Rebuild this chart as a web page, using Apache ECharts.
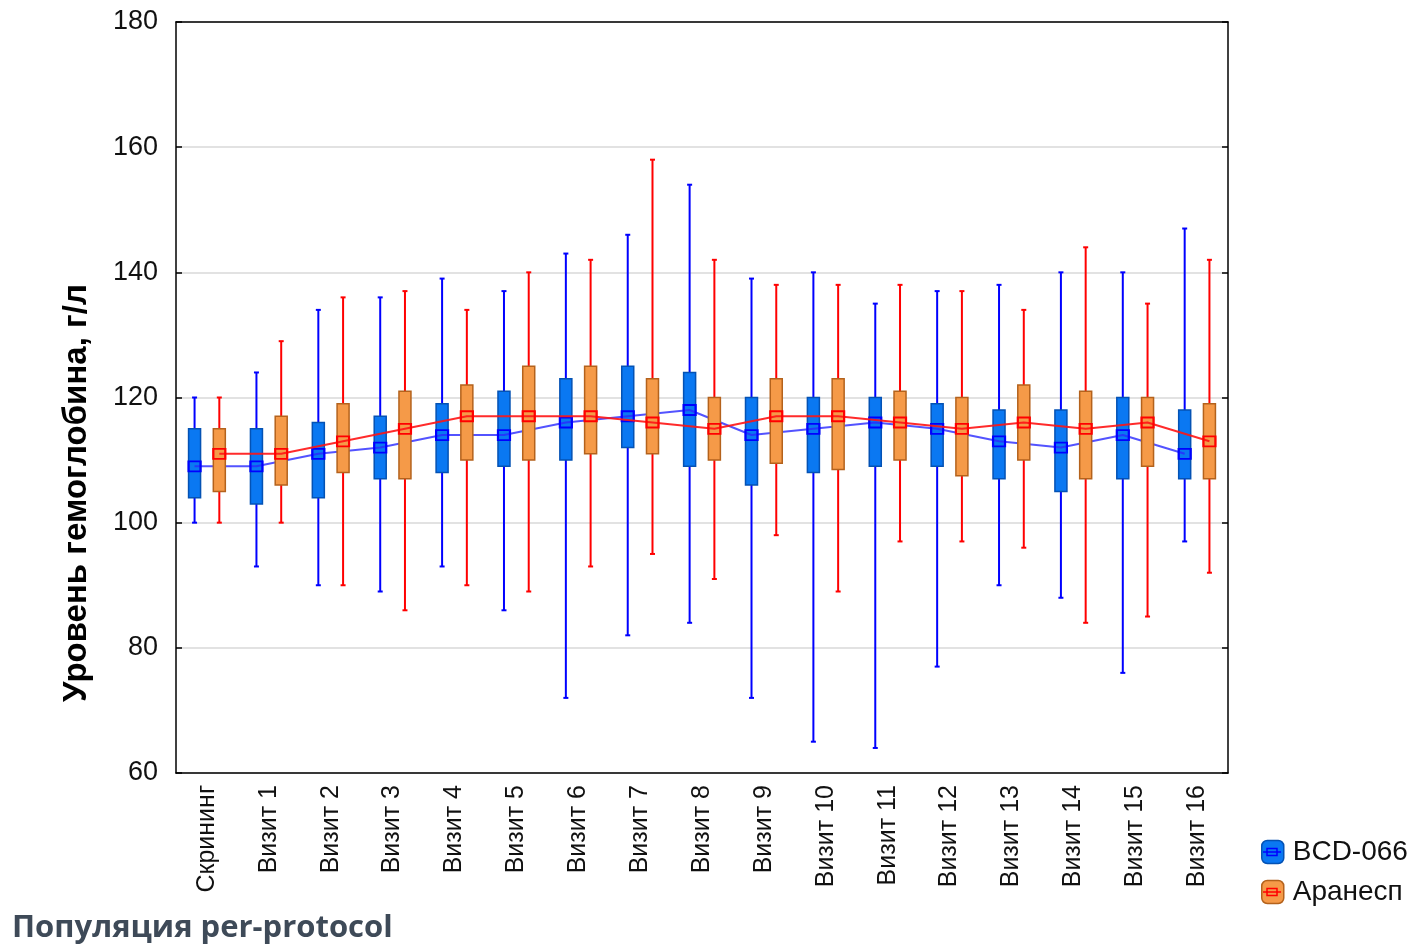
<!DOCTYPE html>
<html>
<head>
<meta charset="utf-8">
<script src="https://cdn.jsdelivr.net/npm/echarts@6/dist/echarts.min.js"></script>
<style>
  html, body { margin: 0; padding: 0; background: #fff; }
  #chart { width: 1415px; height: 944px; }
</style>
</head>
<body>
<div id="chart"></div>
<script>
// Visits along the x axis
const categories = ['Скрининг', 'Визит 1', 'Визит 2', 'Визит 3', 'Визит 4', 'Визит 5', 'Визит 6',
  'Визит 7', 'Визит 8', 'Визит 9', 'Визит 10', 'Визит 11', 'Визит 12', 'Визит 13',
  'Визит 14', 'Визит 15', 'Визит 16'];

// Hemoglobin, g/L — BCD-066 group: min, Q1, median, Q3, max per visit
const bcdMin    = [100, 93, 90, 89, 93, 86, 72, 82, 84, 72, 65, 64, 77, 90, 88, 76, 97];
const bcdQ1     = [104, 103, 104, 107, 108, 109, 110, 112, 109, 106, 108, 109, 109, 107, 105, 107, 107];
const bcdMedian = [109, 109, 111, 112, 114, 114, 116, 117, 118, 114, 115, 116, 115, 113, 112, 114, 111];
const bcdQ3     = [115, 115, 116, 117, 119, 121, 123, 125, 124, 120, 120, 120, 119, 118, 118, 120, 118];
const bcdMax    = [120, 124, 134, 136, 139, 137, 143, 146, 154, 139, 140, 135, 137, 138, 140, 140, 147];

// Hemoglobin, g/L — Аранесп group
const araMin    = [100, 100, 90, 86, 90, 89, 93, 95, 91, 98, 89, 97, 97, 96, 84, 85, 92];
const araQ1     = [105, 106, 108, 107, 110, 110, 111, 111, 110, 109.5, 108.5, 110, 107.5, 110, 107, 109, 107];
const araMedian = [111, 111, 113, 115, 117, 117, 117, 116, 115, 117, 117, 116, 115, 116, 115, 116, 113];
const araQ3     = [115, 117, 119, 121, 122, 125, 125, 123, 120, 123, 123, 121, 120, 122, 121, 120, 119];
const araMax    = [120, 129, 136, 137, 134, 140, 142, 158, 142, 138, 138, 138, 137, 134, 144, 135, 142];

// Y axis ticks
const yTicks = [60, 80, 100, 120, 140, 160, 180];

// Side-by-side placement of the two groups inside each visit slot
const OFFSET = 0.2;

const FONT = '"Liberation Sans", Arial, sans-serif';

function boxData(mins, q1s, q3s, maxs, shift) {
  return categories.map((_, i) => [i + shift, mins[i], q1s[i], q3s[i], maxs[i]]);
}
function medianData(meds, shift) {
  return categories.map((_, i) => [i + shift, meds[i]]);
}

function boxRenderer(whisker, fill, border) {
  return function (params, api) {
    const x = api.value(0);
    const lo = api.coord([x, api.value(1)]);
    const q1 = api.coord([x, api.value(2)]);
    const q3 = api.coord([x, api.value(3)]);
    const hi = api.coord([x, api.value(4)]);
    const cx = lo[0];
    const bw = 12, cap = 5;
    const wStyle = { stroke: whisker, lineWidth: 2 };
    return {
      type: 'group',
      children: [
        { type: 'line', shape: { x1: cx, y1: hi[1], x2: cx, y2: lo[1] }, style: wStyle },
        { type: 'line', shape: { x1: cx - cap / 2, y1: hi[1], x2: cx + cap / 2, y2: hi[1] }, style: wStyle },
        { type: 'line', shape: { x1: cx - cap / 2, y1: lo[1], x2: cx + cap / 2, y2: lo[1] }, style: wStyle },
        { type: 'rect', shape: { x: cx - bw / 2, y: q3[1], width: bw, height: q1[1] - q3[1] },
          style: { fill: fill, stroke: border, lineWidth: 1.5 } }
      ]
    };
  };
}

const BLUE_FILL = '#0a78f2', BLUE_EDGE = '#0452b4', BLUE_LINE = '#0000ff';
const ORANGE_FILL = '#f59a48', ORANGE_EDGE = '#b4621c', RED_LINE = '#ff0000';

// Small median marker drawn inside a legend swatch
function legendMarker(cx, cy, color) {
  return [
    { type: 'line', z: 100, shape: { x1: cx - 9, y1: cy, x2: cx + 9, y2: cy }, style: { stroke: color, lineWidth: 1.5 } },
    { type: 'rect', z: 100, shape: { x: cx - 5, y: cy - 3.5, width: 10, height: 7 }, style: { fill: 'none', stroke: color, lineWidth: 1.5 } }
  ];
}

const chart = echarts.init(document.getElementById('chart'), null, { renderer: 'canvas' });

chart.setOption({
  animation: false,
  backgroundColor: '#ffffff',
  grid: { left: 176, right: 187, top: 22, bottom: 171, containLabel: false },
  legend: {
    orient: 'vertical',
    left: 1261,
    top: 838,
    padding: 0,
    itemWidth: 22,
    itemHeight: 23,
    itemGap: 12,
    selectedMode: false,
    textStyle: { fontFamily: FONT, fontSize: 28, color: '#111', padding: [6, 0, 0, 4] },
    data: [
      { name: 'BCD-066', icon: 'roundRect', itemStyle: { color: BLUE_FILL, borderColor: BLUE_EDGE, borderWidth: 1.5 } },
      { name: 'Аранесп', icon: 'roundRect', itemStyle: { color: ORANGE_FILL, borderColor: ORANGE_EDGE, borderWidth: 1.5 } }
    ]
  },
  xAxis: [
    {
      type: 'category',
      data: categories,
      position: 'bottom',
      boundaryGap: true,
      axisLine: { onZero: false, lineStyle: { color: '#000', width: 1.5 } },
      axisTick: { inside: true, alignWithLabel: true, length: 6, lineStyle: { color: '#000', width: 1.5 } },
      axisLabel: { rotate: 90, margin: 12, fontFamily: FONT, fontSize: 25, color: '#111' },
      splitLine: { show: false }
    },
    {
      type: 'category',
      data: categories,
      position: 'top',
      boundaryGap: true,
      axisLine: { onZero: false, lineStyle: { color: '#000', width: 1.5 } },
      axisTick: { inside: true, alignWithLabel: true, length: 6, lineStyle: { color: '#000', width: 1.5 } },
      axisLabel: { show: false },
      splitLine: { show: false }
    },
    {
      type: 'value',
      min: -0.5,
      max: categories.length - 0.5,
      show: false
    }
  ],
  yAxis: [
    {
      type: 'value',
      position: 'left',
      min: yTicks[0],
      max: yTicks[yTicks.length - 1],
      interval: 20,
      axisLine: { show: true, onZero: false, lineStyle: { color: '#000', width: 1.5 } },
      axisTick: { show: true, inside: true, length: 6, lineStyle: { color: '#000', width: 1.5 } },
      axisLabel: { margin: 18, fontFamily: FONT, fontSize: 27, color: '#111' },
      splitLine: { show: true, lineStyle: { color: '#d9d9d9', width: 1.5 } }
    },
    {
      type: 'value',
      position: 'right',
      min: yTicks[0],
      max: yTicks[yTicks.length - 1],
      interval: 20,
      axisLine: { show: true, onZero: false, lineStyle: { color: '#000', width: 1.5 } },
      axisTick: { show: true, inside: true, length: 6, lineStyle: { color: '#000', width: 1.5 } },
      axisLabel: { show: false },
      splitLine: { show: false }
    }
  ],
  series: [
    {
      name: 'BCD-066',
      type: 'custom',
      xAxisIndex: 2,
      yAxisIndex: 0,
      z: 2,
      encode: { x: 0, y: [1, 2, 3, 4] },
      renderItem: boxRenderer(BLUE_LINE, BLUE_FILL, BLUE_EDGE),
      data: boxData(bcdMin, bcdQ1, bcdQ3, bcdMax, -OFFSET)
    },
    {
      name: 'BCD-066',
      type: 'line',
      xAxisIndex: 2,
      yAxisIndex: 0,
      z: 3,
      symbol: 'rect',
      symbolSize: [12, 10],
      itemStyle: { color: 'rgba(0,0,0,0)', borderColor: BLUE_LINE, borderWidth: 2 },
      lineStyle: { color: 'rgba(40,40,255,0.8)', width: 2 },
      emphasis: { disabled: true },
      data: medianData(bcdMedian, -OFFSET)
    },
    {
      name: 'Аранесп',
      type: 'custom',
      xAxisIndex: 2,
      yAxisIndex: 0,
      z: 4,
      encode: { x: 0, y: [1, 2, 3, 4] },
      renderItem: boxRenderer(RED_LINE, ORANGE_FILL, ORANGE_EDGE),
      data: boxData(araMin, araQ1, araQ3, araMax, OFFSET)
    },
    {
      name: 'Аранесп',
      type: 'line',
      xAxisIndex: 2,
      yAxisIndex: 0,
      z: 5,
      symbol: 'rect',
      symbolSize: [12, 10],
      itemStyle: { color: 'rgba(0,0,0,0)', borderColor: RED_LINE, borderWidth: 2 },
      lineStyle: { color: 'rgba(255,20,20,0.9)', width: 2 },
      emphasis: { disabled: true },
      data: medianData(araMedian, OFFSET)
    }
  ],
  graphic: [
    {
      type: 'text',
      x: 77,
      y: 493,
      rotation: Math.PI / 2,
      style: {
        text: 'Уровень гемоглобина, г/л',
        font: 'bold 33px "Liberation Sans", Arial, sans-serif',
        fill: '#000',
        align: 'center',
        verticalAlign: 'middle'
      }
    },
    {
      type: 'text',
      left: 12,
      top: 913,
      style: {
        text: 'Популяция per-protocol',
        font: 'bold 31px "Open Sans", sans-serif',
        fill: '#3e4a58'
      }
    }
  ].concat(legendMarker(1272, 852, BLUE_LINE), legendMarker(1272, 892, RED_LINE))
});
</script>
</body>
</html>
